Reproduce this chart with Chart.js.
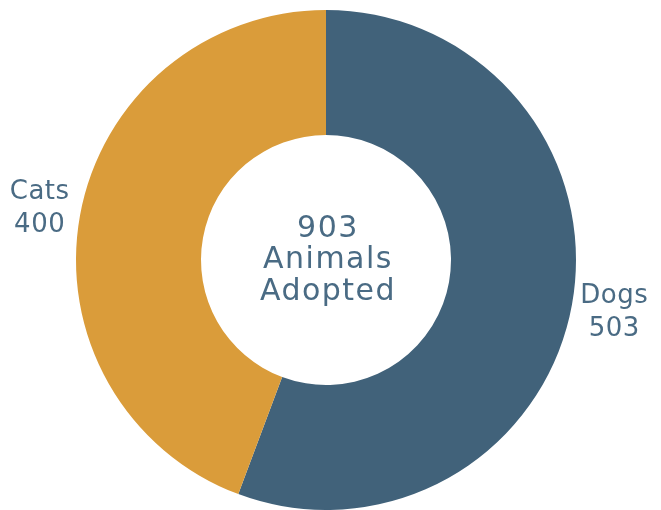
<!DOCTYPE html>
<html>
<head>
<meta charset="utf-8">
<script src="https://cdn.jsdelivr.net/npm/chart.js@4"></script>
<style>
html,body{margin:0;padding:0;background:#fff;}
#wrap{width:661px;height:510px;position:relative;}
</style>
</head>
<body>
<div id="wrap"><canvas id="c" width="661" height="510"></canvas></div>
<script>
const categories = ["Dogs", "Cats"];
const adopted = [503, 400];
const centerLines = ["903", "Animals", "Adopted"];
const sliceColors = ["#41627A", "#DA9C3A"];
const textColor = "#4A6B84";
const fontFamily = "'DejaVu Sans', sans-serif";

const labelPlugin = {
  id: 'labels',
  afterDatasetsDraw(chart) {
    const ctx = chart.ctx;
    const meta = chart.getDatasetMeta(0);
    ctx.save();
    ctx.fillStyle = textColor;
    ctx.textAlign = 'center';
    ctx.textBaseline = 'alphabetic';
    ctx.font = "26px " + fontFamily;
    try { ctx.letterSpacing = "0.5px"; } catch(e) {}
    meta.data.forEach((arc, i) => {
      const p = arc.getProps(['x','y','startAngle','endAngle','outerRadius'], true);
      const mid = (p.startAngle + p.endAngle) / 2;
      const r = p.outerRadius + 42;
      const x = p.x + Math.cos(mid) * r;
      const y = p.y + Math.sin(mid) * r;
      ctx.fillText(categories[i], x + 1, y - 9);
      ctx.fillText(String(adopted[i]), x + 1, y + 24);
    });
    const a0 = meta.data[0];
    const cx = a0.x, cy = a0.y;
    ctx.font = "30px " + fontFamily;
    try { ctx.letterSpacing = "1.5px"; } catch(e) {}
    const base = [cy - 23, cy + 8, cy + 40];
    centerLines.forEach((t, i) => ctx.fillText(t, cx + 2, base[i]));
    ctx.restore();
  }
};

new Chart(document.getElementById('c'), {
  type: 'doughnut',
  data: {
    labels: categories,
    datasets: [{
      data: adopted,
      backgroundColor: sliceColors,
      borderWidth: 0,
      hoverOffset: 0
    }]
  },
  options: {
    responsive: false,
    animation: false,
    cutout: '50%',
    layout: { padding: { top: 10, bottom: 0, left: 0, right: 9 } },
    plugins: {
      legend: { display: false },
      tooltip: { enabled: false }
    }
  },
  plugins: [labelPlugin]
});
</script>
</body>
</html>
